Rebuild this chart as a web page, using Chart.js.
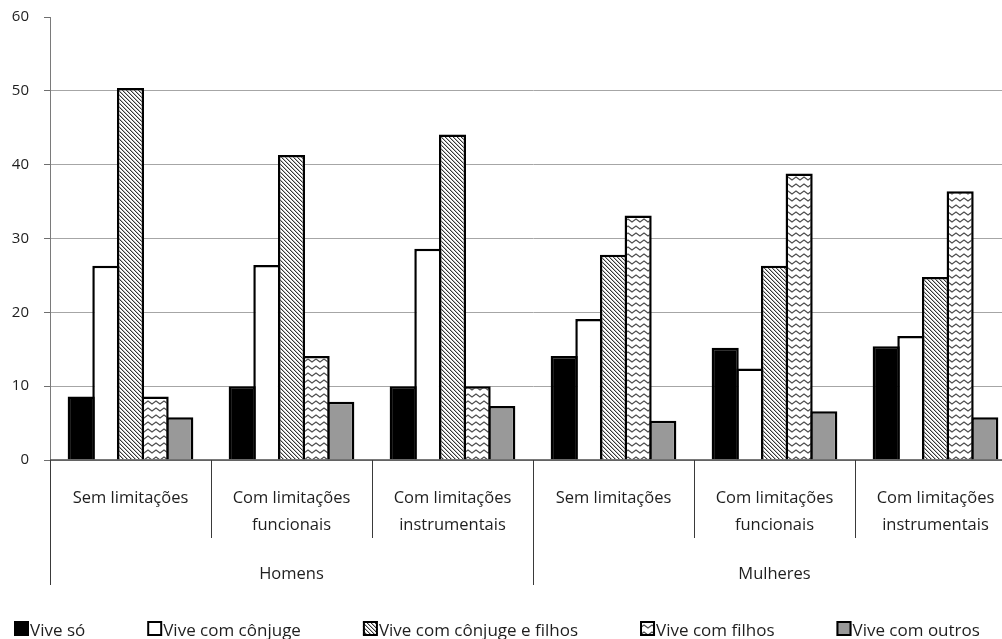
<!DOCTYPE html>
<html lang="pt">
<head>
<meta charset="utf-8">
<title>Arranjo domiciliar segundo sexo e limitações</title>
<script src="https://cdn.jsdelivr.net/npm/chart.js@4.4.1/dist/chart.umd.min.js"></script>
<style>
  html, body { margin: 0; padding: 0; background: #fff; overflow: hidden; }
  #wrap { position: relative; width: 1030px; height: 639px; }
</style>
</head>
<body>
<div id="wrap"><canvas id="chart"></canvas></div>
<script>
// Sub-categories (two text lines each) and the two sex groups below them
const subgroups = [
  ['Sem limitações'],
  ['Com limitações', 'funcionais'],
  ['Com limitações', 'instrumentais'],
  ['Sem limitações'],
  ['Com limitações', 'funcionais'],
  ['Com limitações', 'instrumentais']
];
const groups = ['Homens', 'Mulheres'];

const seriesNames = ['Vive só', 'Vive com cônjuge', 'Vive com cônjuge e filhos', 'Vive com filhos', 'Vive com outros'];

// Percentages per sub-category
const viveSo            = [8.6, 10.0, 10.0, 14.1, 15.2, 15.4];
const viveConjuge       = [26.3, 26.4, 28.6, 19.1, 12.4, 16.8];
const viveConjugeFilhos = [50.4, 41.3, 44.1, 27.8, 26.3, 24.8];
const viveFilhos        = [8.6, 14.1, 10.0, 33.1, 38.8, 36.4];
const viveOutros        = [5.8, 7.9, 7.3, 5.3, 6.6, 5.8];

const yMin = 0, yMax = 60, yStep = 10;

const FONT = '"Open Sans", "Noto Sans", sans-serif';
const TEXT = '#1e1e1e';

// Fill patterns
function hatchPattern() {
  const c = document.createElement('canvas');
  c.width = 4; c.height = 4;
  const g = c.getContext('2d');
  const img = g.createImageData(4, 4);
  for (let y = 0; y < 4; y++) {
    for (let x = 0; x < 4; x++) {
      const d = ((x - y) % 4 + 4) % 4;
      const v = d === 0 ? 55 : (d === 1 ? 185 : 255);
      const i = (y * 4 + x) * 4;
      img.data[i] = img.data[i + 1] = img.data[i + 2] = v;
      img.data[i + 3] = 255;
    }
  }
  g.putImageData(img, 0, 0);
  return g.createPattern(c, 'repeat');
}
function wavePattern() {
  const c = document.createElement('canvas');
  c.width = 8; c.height = 7;
  const g = c.getContext('2d');
  g.fillStyle = '#fff';
  g.fillRect(0, 0, 8, 7);
  g.strokeStyle = '#4a4a4a';
  g.lineWidth = 1.1;
  g.beginPath();
  g.moveTo(-4, 2); g.lineTo(0, 5); g.lineTo(4, 2); g.lineTo(8, 5); g.lineTo(12, 2);
  g.stroke();
  return g.createPattern(c, 'repeat');
}

const fills = ['#000000', '#ffffff', hatchPattern(), wavePattern(), '#999999'];
const seriesData = [viveSo, viveConjuge, viveConjugeFilhos, viveFilhos, viveOutros];

const labels = subgroups.map((s, i) => groups[Math.floor(i / 3)] + ' – ' + s.join(' '));

// Draws the two-level category axis, separators and the legend row
const axisAndLegend = {
  id: 'axisAndLegend',
  afterDraw(chart) {
    const ctx = chart.ctx;
    const xs = chart.scales.x;
    const area = chart.chartArea;
    const n = subgroups.length;
    const cw = xs.width / n;
    const y0 = area.bottom;

    ctx.save();
    // baseline axis
    ctx.strokeStyle = '#4d4d4d';
    ctx.lineWidth = 1.5;
    ctx.beginPath();
    ctx.moveTo(area.left, y0);
    ctx.lineTo(xs.right, y0);
    ctx.stroke();

    // separators
    ctx.strokeStyle = '#3a3a3a';
    ctx.lineWidth = 1;
    for (let i = 0; i <= n; i++) {
      const x = Math.round(xs.left + i * cw) + 0.5;
      const long = i % 3 === 0;
      ctx.beginPath();
      ctx.moveTo(x, y0);
      ctx.lineTo(x, long ? y0 + 125 : y0 + 78);
      ctx.stroke();
    }

    // sub-category labels
    ctx.fillStyle = TEXT;
    ctx.font = '16.5px ' + FONT;
    ctx.textAlign = 'center';
    ctx.textBaseline = 'alphabetic';
    subgroups.forEach((lines, i) => {
      const cx = xs.getPixelForValue(i);
      lines.forEach((t, k) => ctx.fillText(t, cx, y0 + 43 + k * 27));
    });
    // group labels
    groups.forEach((g, j) => {
      const cx = xs.left + (j * 3 + 1.5) * cw;
      ctx.fillText(g, cx, y0 + 119);
    });

    // legend
    ctx.font = '17px ' + FONT;
    ctx.textAlign = 'left';
    let tx = 30;
    const box = 15, by = 621;
    seriesNames.forEach((name, i) => {
      const bx = tx - box - 1;
      ctx.fillStyle = fills[i];
      ctx.fillRect(bx, by, box, box);
      ctx.strokeStyle = '#000';
      ctx.lineWidth = 2;
      ctx.strokeRect(bx + 1, by + 1, box - 2, box - 2);
      ctx.fillStyle = TEXT;
      ctx.fillText(name, tx, 636);
      tx += ctx.measureText(name).width + 78;
    });
    ctx.restore();
  }
};

new Chart(document.getElementById('chart'), {
  type: 'bar',
  data: {
    labels: labels,
    datasets: seriesData.map((d, i) => ({
      label: seriesNames[i],
      data: d,
      backgroundColor: fills[i],
      borderColor: '#000',
      borderWidth: 2.5,
      barPercentage: 1.1,
      categoryPercentage: 0.7655
    }))
  },
  options: {
    responsive: true,
    maintainAspectRatio: false,
    animation: false,
    layout: { padding: { top: 17, right: 14, left: 0, bottom: 0 } },
    plugins: { legend: { display: false }, tooltip: { enabled: false } },
    scales: {
      x: {
        ticks: { display: false },
        grid: { display: false, drawTicks: false },
        border: { display: false },
        afterFit(s) { s.height = 179; }
      },
      y: {
        min: yMin,
        max: yMax,
        ticks: {
          stepSize: yStep,
          padding: 15,
          color: TEXT,
          font: { family: FONT, size: 15 }
        },
        grid: {
          color: c => (c.tick && c.tick.value === yMax) ? 'rgba(0,0,0,0)' : '#a6a6a6',
          tickColor: '#6e6e6e',
          tickLength: 6,
          lineWidth: 1
        },
        border: { color: '#7a7a7a', width: 1 },
        afterFit(s) {
          s.width = 50;
          s.paddingTop = 0;
          s.paddingBottom = 0;
        }
      }
    }
  },
  plugins: [axisAndLegend]
});
</script>
</body>
</html>
